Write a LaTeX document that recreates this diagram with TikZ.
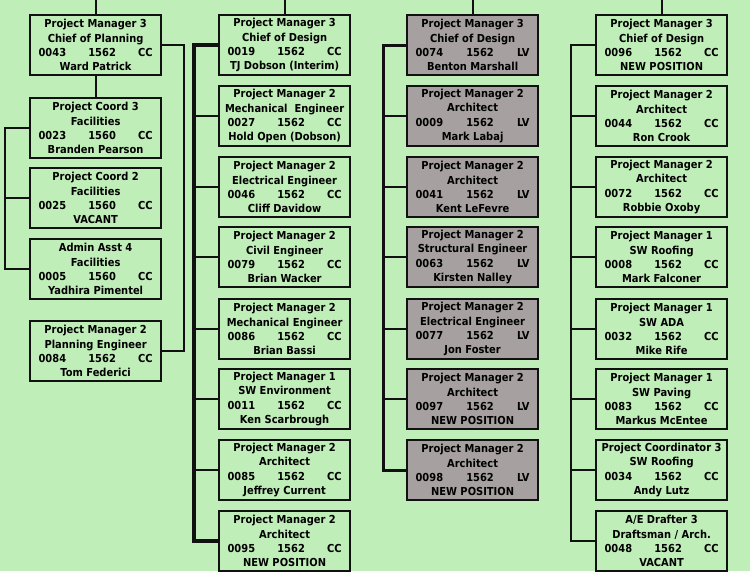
\documentclass[tikz,border=0pt]{standalone}
\usepackage{fontspec}
\setmainfont{DejaVu Sans}[FakeStretch=0.9]
\definecolor{bg}{RGB}{192,238,184}
\definecolor{grayfill}{RGB}{166,160,160}
\definecolor{ink}{RGB}{17,17,17}
\tikzset{
  posbox/.style={draw=ink, line width=2.2pt, fill=bg, minimum width=131pt, minimum height=60pt,
    inner sep=0pt, align=center, font=\fontsize{11}{14.2}\selectfont\bfseries, anchor=north west},
  lvbox/.style={posbox, fill=grayfill},
  link/.style={draw=ink, line width=2.2pt},
  bus/.style={draw=ink, line width=#1},
}
\newcommand{\idl}[3]{\makebox[114pt]{#1\hfill #2\hfill #3}}
\newcommand{\pos}[8]{\node[#1] (#2) at (#3) {#4\\#5\\#6\\#7};}
\begin{document}
\begin{tikzpicture}[x=1pt,y=-1pt]
\fill[bg] (0,0) rectangle (750,571);
\useasboundingbox (0,0) rectangle (750,571);
\coordinate (top) at (0,-3);
% column 1
\pos{posbox}{a1}{29,14}{Project Manager 3}{Chief of Planning}{\idl{0043}{1562}{CC}}{Ward Patrick}{}{}
\pos{posbox}{a2}{29,97}{Project Coord 3}{Facilities}{\idl{0023}{1560}{CC}}{Branden Pearson}{}{}
\pos{posbox}{a3}{29,167}{Project Coord 2}{Facilities}{\idl{0025}{1560}{CC}}{VACANT}{}{}
\pos{posbox}{a4}{29,238}{Admin Asst 4}{Facilities}{\idl{0005}{1560}{CC}}{Yadhira Pimentel}{}{}
\pos{posbox}{a5}{29,320}{Project Manager 2}{Planning Engineer}{\idl{0084}{1562}{CC}}{Tom Federici}{}{}
% column 2
\pos{posbox}{b1}{218,14}{Project Manager 3}{Chief of Design}{\idl{0019}{1562}{CC}}{TJ Dobson (Interim)}{}{}
\pos{posbox}{b2}{218,85}{Project Manager 2}{Mechanical\ \ Engineer}{\idl{0027}{1562}{CC}}{Hold Open (Dobson)}{}{}
\pos{posbox}{b3}{218,156}{Project Manager 2}{Electrical Engineer}{\idl{0046}{1562}{CC}}{Cliff Davidow}{}{}
\pos{posbox}{b4}{218,226}{Project Manager 2}{Civil Engineer}{\idl{0079}{1562}{CC}}{Brian Wacker}{}{}
\pos{posbox}{b5}{218,298}{Project Manager 2}{Mechanical Engineer}{\idl{0086}{1562}{CC}}{Brian Bassi}{}{}
\pos{posbox}{b6}{218,368}{Project Manager 1}{SW Environment}{\idl{0011}{1562}{CC}}{Ken Scarbrough}{}{}
\pos{posbox}{b7}{218,439}{Project Manager 2}{Architect}{\idl{0085}{1562}{CC}}{Jeffrey Current}{}{}
\pos{posbox}{b8}{218,510}{Project Manager 2}{Architect}{\idl{0095}{1562}{CC}}{NEW POSITION}{}{}
% column 3
\pos{lvbox}{c1}{406,14}{Project Manager 3}{Chief of Design}{\idl{0074}{1562}{LV}}{Benton Marshall}{}{}
\pos{lvbox}{c2}{406,85}{Project Manager 2}{Architect}{\idl{0009}{1562}{LV}}{Mark Labaj}{}{}
\pos{lvbox}{c3}{406,156}{Project Manager 2}{Architect}{\idl{0041}{1562}{LV}}{Kent LeFevre}{}{}
\pos{lvbox}{c4}{406,226}{Project Manager 2}{Structural Engineer}{\idl{0063}{1562}{LV}}{Kirsten Nalley}{}{}
\pos{lvbox}{c5}{406,298}{Project Manager 2}{Electrical Engineer}{\idl{0077}{1562}{LV}}{Jon Foster}{}{}
\pos{lvbox}{c6}{406,368}{Project Manager 2}{Architect}{\idl{0097}{1562}{LV}}{NEW POSITION}{}{}
\pos{lvbox}{c7}{406,439}{Project Manager 2}{Architect}{\idl{0098}{1562}{LV}}{NEW POSITION}{}{}
% column 4
\pos{posbox}{d1}{595,14}{Project Manager 3}{Chief of Design}{\idl{0096}{1562}{CC}}{NEW POSITION}{}{}
\pos{posbox}{d2}{595,85}{Project Manager 2}{Architect}{\idl{0044}{1562}{CC}}{Ron Crook}{}{}
\pos{posbox}{d3}{595,156}{Project Manager 2}{Architect}{\idl{0072}{1562}{CC}}{Robbie Oxoby}{}{}
\pos{posbox}{d4}{595,226}{Project Manager 1}{SW Roofing}{\idl{0008}{1562}{CC}}{Mark Falconer}{}{}
\pos{posbox}{d5}{595,298}{Project Manager 1}{SW ADA}{\idl{0032}{1562}{CC}}{Mike Rife}{}{}
\pos{posbox}{d6}{595,368}{Project Manager 1}{SW Paving}{\idl{0083}{1562}{CC}}{Markus McEntee}{}{}
\pos{posbox}{d7}{595,439}{Project Coordinator 3}{SW Roofing}{\idl{0034}{1562}{CC}}{Andy Lutz}{}{}
\pos{posbox}{d8}{595,510}{A/E Drafter 3}{Draftsman / Arch.}{\idl{0048}{1562}{CC}}{VACANT}{}{}
% bus coordinates
\coordinate (aL) at (5,200);
\coordinate (aR) at (184,200);
\coordinate (bB) at (194,300);
\coordinate (cB) at (383,300);
\coordinate (dB) at (571,300);
% top lines
\draw[link] (a1.north) -- (a1.north |- top);
\draw[link] (b1.north) -- (b1.north |- top);
\draw[link] (c1.north) -- (c1.north |- top);
\draw[link] (d1.north) -- (d1.north |- top);
% column 1
\draw[link] (a1.south) -- (a2.north);
\draw[link] (a2.west) -| (aL) |- (a4.west);
\draw[link] (a3.west) -- (a3.west -| aL);
\draw[link] (a1.east) -| (aR) |- (a5.east);
% column 2
\draw[bus=3.4pt] (b1.west) -| (bB) |- (b8.west);
\foreach \k in {2,...,7} \draw[link] (b\k.west) -- (b\k.west -| bB);
% column 3
\draw[bus=3pt] (c1.west) -| (cB) |- (c7.west);
\foreach \k in {2,...,6} \draw[link] (c\k.west) -- (c\k.west -| cB);
% column 4
\draw[bus=2.6pt] (d1.west) -| (dB) |- (d8.west);
\foreach \k in {2,...,7} \draw[link] (d\k.west) -- (d\k.west -| dB);
\end{tikzpicture}
\end{document}
